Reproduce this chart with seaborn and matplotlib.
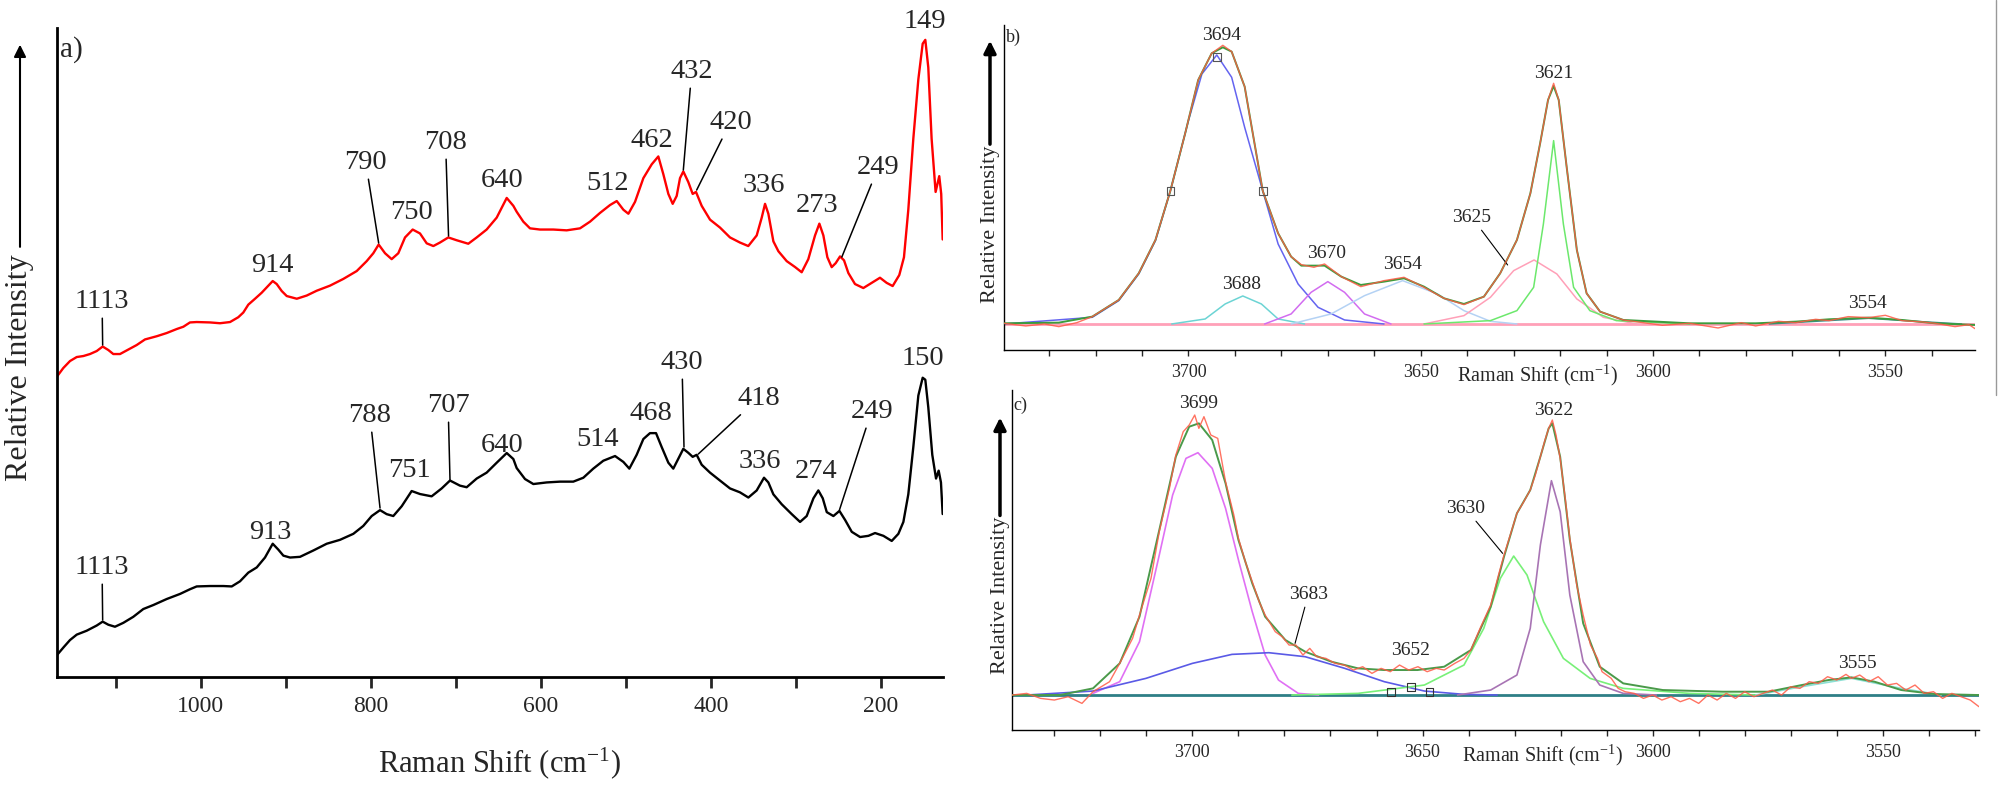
import numpy as np
import matplotlib
matplotlib.use("Agg")
import matplotlib.pyplot as plt
from matplotlib.lines import Line2D
import seaborn as sns

# ---------------- panel a) spectra: (Raman shift cm-1, relative intensity) ----------------
a_red_points = [
    (1168.6, 301), (1161.6, 309), (1153.7, 316), (1145.8, 320), (1138, 321), (1130.2, 323),
    (1122.3, 326), (1115.3, 330.5), (1108.6, 327), (1102.8, 323), (1094.9, 323), (1087, 326.6),
    (1075.3, 332), (1065.5, 337.6), (1051.7, 340.8), (1040, 344), (1028.2, 348), (1020.4, 350.3),
    (1012.6, 354.6), (1004.7, 355), (989, 354.6), (977.3, 353.8), (965.5, 355), (955.8, 359.8),
    (949.9, 364.5), (944, 372.4), (936.1, 378.3), (928.3, 384.3), (920.5, 391.4), (915.3, 396),
    (910.6, 393), (904.7, 386), (898.8, 381), (887, 378.3), (875.3, 381.5), (863.6, 386.3),
    (847.9, 391.4), (832.3, 398.1), (816.5, 406), (804.8, 415.9), (797, 423.8), (790.7, 432.5),
    (783.2, 423.8), (775.4, 417.9), (767.6, 423.8), (759.7, 439.6), (750.7, 447.5),
    (742.1, 443.6), (734.2, 433.7), (726.4, 431), (718.6, 434.5), (708.8, 439.6), (699, 436.8),
    (685.3, 433.3), (675.4, 439.6), (663.7, 447.5), (651.9, 459.4), (640.1, 479.1),
    (632.3, 471.2), (628.4, 465.3), (620.6, 455.4), (612.7, 448.7), (601, 447.5),
    (585.3, 447.5), (569.6, 446.7), (553.9, 448.7), (542.1, 455.4), (530.4, 464.1),
    (518.6, 472), (510.7, 476), (502.9, 467.3), (497, 463.3), (489.2, 475.2), (479.4, 498.9),
    (469.6, 512.7), (461.8, 520.6), (455.9, 502.8), (450, 483.1), (444.9, 473.2),
    (440.2, 481.1), (436.3, 498.9), (432.4, 505.6), (426.5, 494.9), (421.4, 483.1),
    (417.5, 485.1), (410.8, 471.2), (401, 457.4), (389.3, 449.5), (377.5, 439.6),
    (365.8, 434.5), (356, 431), (346.1, 441.6), (340.2, 459.4), (336.3, 473.2), (332.4, 463.3),
    (326.5, 435.7), (320.6, 425.8), (310.8, 415.9), (301, 410), (293.2, 404.8), (285.4, 417.9),
    (277.5, 441.6), (272.4, 453.4), (267.7, 441.6), (263, 419.8), (257.9, 409.9),
    (253.2, 413.9), (248.1, 420.6), (243.4, 416.7), (238.3, 404), (230.5, 393), (220.7, 389),
    (210.9, 394.2), (201.1, 399.3), (193.3, 394.2), (186.2, 391), (178.4, 402), (172.9, 419.8),
    (167.8, 467.3), (161.9, 538.4), (156, 597.7), (150.9, 633.3), (147.8, 637.2),
    (144.3, 609.6), (140.4, 538.4), (135.7, 485.1), (131.4, 500.9), (129.1, 483.1),
    (127.4, 437.6)]

a_black_points = [
    (1169, 22), (1161, 30), (1153.7, 37), (1145.8, 42.4), (1134.1, 46.3), (1122.3, 51.5),
    (1115.3, 55.4), (1108.6, 52.3), (1100.8, 50.3), (1091, 54.2), (1079.3, 60.2), (1067.5, 68),
    (1055.7, 72), (1040, 78), (1024.3, 83.1), (1012.6, 87.8), (1004.7, 90.6), (989, 91),
    (973.4, 91), (963.5, 90.6), (953.8, 95.7), (944, 104.4), (934.1, 109.6), (924.4, 119.5),
    (915.3, 133.3), (908.7, 127.4), (902.8, 121.4), (894.9, 119.5), (883.2, 120.2),
    (867.4, 126.6), (851.8, 133.3), (836.2, 137.2), (820.5, 143.2), (808.8, 151.1),
    (798.9, 161), (789.1, 166.9), (781.3, 162.9), (773.5, 161), (763.6, 170.8), (751.9, 186),
    (742.1, 183), (728.4, 180.7), (716.6, 188.6), (706.8, 196.5), (695.1, 191.4),
    (687.2, 189.8), (675.4, 198.5), (663.7, 204.4), (651.9, 214.3), (640.1, 224),
    (632.3, 218), (628.4, 209), (618.6, 198), (608.8, 193), (593.1, 194.6), (577.4, 195.4),
    (561.8, 195.4), (550, 199.3), (538.3, 208.4), (526.5, 216.3), (512.7, 221), (502.9, 215.1),
    (495.9, 208.4), (487.3, 222.2), (479.4, 238), (471.6, 243.9), (464.5, 243.9),
    (457.9, 230.1), (450, 214.3), (444.2, 208.4), (438.3, 218.3), (432.4, 228.2),
    (426.5, 224.2), (421.4, 220.2), (416.7, 222.2), (410.8, 212.3), (401, 204.4),
    (389.3, 196.5), (377.5, 188.6), (365.8, 184.7), (355.9, 179.5), (346.1, 186.6),
    (337.5, 199.3), (332.4, 194.6), (326.5, 182.7), (316.7, 172.8), (304.9, 162.9),
    (295.1, 155.1), (287.3, 161), (279.4, 178.7), (273.6, 186.6), (268.4, 178.7),
    (263.7, 164.9), (255.9, 161), (248.8, 166.1), (242.1, 157), (234.3, 145.2), (224.5, 140),
    (214.7, 141.2), (206.9, 144), (197.1, 141.2), (187.3, 136.1), (179.5, 143.2),
    (173.6, 155.1), (167.8, 182.7), (161.9, 230.1), (156, 281.5), (150.9, 299.3),
    (147.8, 297.3), (144.3, 269.7), (139.6, 222.2), (135.2, 198.5), (132.1, 206.4),
    (129.4, 194.6), (127.4, 163)]

# peak labels: (text, label x, label y, leader end x or None, leader end y)
a_red_labels = [("1113", 1116, 376, 1115.3, 332), ("914", 916, 412, None, None),
                ("790", 806, 515, 790.7, 434), ("750", 752, 465, None, None),
                ("708", 712, 535, 708.5, 441), ("640", 645, 497, None, None),
                ("512", 522, 494, None, None), ("462", 469, 537, None, None),
                ("432", 422.5, 606, 432.4, 507), ("420", 377, 555, 416.7, 487),
                ("336", 338, 492, None, None), ("273", 275, 472, None, None),
                ("249", 203, 510, 246, 420), ("149", 148, 656, None, None)]
a_black_labels = [("1113", 1116, 110, 1115.3, 57), ("913", 918, 145, None, None),
                  ("788", 801, 262, 789.1, 169), ("751", 754, 207, None, None),
                  ("707", 709, 272, 706.8, 197), ("640", 646, 232, None, None),
                  ("514", 533, 238, None, None), ("468", 470, 264, None, None),
                  ("430", 434, 315, 431.6, 230), ("418", 344, 279, 414.8, 223),
                  ("336", 342, 216, None, None), ("274", 276, 206, None, None),
                  ("249", 211, 266, 248.8, 167), ("150", 151, 319, None, None)]

# ---------------- panel b) OH stretching region ----------------
b_fit_x = [3739.7, 3727.9, 3720.7, 3715.0, 3710.7, 3707.1, 3703.9, 3700.7, 3697.9, 3695.0,
           3692.6, 3690.7, 3687.9, 3684.0, 3680.7, 3677.9, 3675.7, 3670.7, 3667.1, 3662.9,
           3657.9, 3653.6, 3649.3, 3645.0, 3640.7, 3636.4, 3632.9, 3629.3, 3626.4, 3624.3,
           3622.6, 3621.4, 3620.3, 3618.6, 3616.4, 3614.3, 3611.4, 3606.4, 3592.1, 3577.9,
           3569.3, 3562.1, 3553.6, 3546.4, 3539.3, 3530.7]
b_fit_y = [2, 4, 22, 72, 152, 252, 399, 572, 732, 812,
           830, 817, 712, 399, 272, 202, 175, 175, 142, 117,
           127, 137, 112, 77, 60, 82, 152, 252, 392, 542,
           672, 714, 672, 472, 222, 92, 37, 12, 2, 2,
           7, 14, 19, 12, 2, -3]
b_obs_x = [3739.7, 3735, 3731, 3727.9, 3724, 3720.7, 3715.0, 3710.7, 3707.1, 3703.9, 3700.7,
           3697.9, 3695.0, 3692.6, 3690.7, 3687.9, 3684.0, 3680.7, 3677.9, 3675.7, 3673, 3670.7,
           3667.1, 3662.9, 3657.9, 3653.6, 3649.3, 3645.0, 3640.7, 3636.4, 3632.9, 3629.3,
           3626.4, 3624.3, 3622.6, 3621.4, 3620.3, 3618.6, 3616.4, 3614.3, 3611.4, 3606.4,
           3598, 3592.1, 3586, 3581, 3577.9, 3573, 3569.3, 3565, 3562.1, 3558, 3553.6, 3550,
           3546.4, 3542, 3539.3, 3535, 3532, 3530.7]
b_obs_y = [2, -6, 0, -8, 4, 22, 72, 152, 252, 399, 572,
           732, 812, 836, 817, 712, 399, 272, 202, 178, 170, 180,
           142, 112, 130, 140, 110, 77, 58, 82, 152, 252,
           392, 542, 672, 722, 672, 472, 222, 92, 37, 12,
           -4, 2, -12, 4, -6, 8, 4, 14, 10, 22, 19, 26,
           10, 6, 2, -8, -2, -14]
b_comp_x = {
    "3694": [3739.7, 3720.7, 3715.0, 3710.7, 3707.1, 3703.9, 3700.0, 3697.1, 3693.9, 3690.7,
             3687.9, 3684.0, 3680.7, 3676.4, 3672.1, 3666.4, 3657.9],
    "3688": [3703.6, 3696.4, 3692.1, 3688.3, 3684.3, 3680.7, 3675.0],
    "3670": [3683.6, 3677.9, 3673.6, 3670.0, 3666.4, 3662.1, 3656.4],
    "3654": [3677.9, 3669.3, 3662.1, 3653.9, 3646.4, 3640.7, 3635.0, 3629.3],
    "3625": [3649.3, 3640.7, 3635.0, 3630.0, 3625.6, 3620.7, 3616.4, 3610.7, 3603.6],
    "3621": [3649.3, 3635.0, 3629.3, 3625.7, 3623.6, 3621.4, 3619.3, 3617.1, 3613.6, 3607.9, 3592.1],
    "3554": [3575.0, 3565.0, 3553.6, 3543.6, 3533.6],
}
b_comp_y = {
    "3694": [0, 20, 70, 150, 250, 399, 610, 750, 807, 740, 590, 399, 240, 120, 50, 12, 0],
    "3688": [0, 15, 60, 84, 60, 15, 0],
    "3670": [0, 30, 95, 127, 95, 30, 0],
    "3654": [0, 30, 85, 130, 90, 40, 8, 0],
    "3625": [0, 25, 80, 160, 192, 150, 75, 20, 0],
    "3621": [0, 10, 40, 110, 300, 550, 300, 110, 40, 10, 0],
    "3554": [0, 8, 17, 8, 0],
}
b_comp_colors = {"3694": "#6464f0", "3688": "#6cd4d4", "3670": "#d26cf0", "3654": "#b4d2f4",
                 "3625": "#ffa0b8", "3621": "#6ce86c", "3554": "#3c8c8c"}
b_markers_x = [3693.9, 3703.9, 3684.0]
b_markers_y = [800, 399, 399]
b_labels = [("3694", 3692.9, 864, None, None), ("3688", 3688.6, 117, None, None),
            ("3670", 3670.3, 210, None, None), ("3654", 3653.9, 177, None, None),
            ("3625", 3639.0, 320, 3631.3, 177), ("3621", 3621.4, 750, None, None),
            ("3554", 3553.9, 62, None, None)]

# ---------------- panel c) OH stretching region ----------------
c_fit_x = [3739.2, 3728.8, 3721.6, 3715.8, 3711.5, 3707.2, 3703.6, 3700.7, 3698.6, 3695.7,
           3692.8, 3690.0, 3687.0, 3684.2, 3679.8, 3675.5, 3669.8, 3664.0, 3658.3, 3651.1,
           3645.3, 3639.5, 3635.2, 3632.3, 3629.5, 3626.6, 3624.4, 3622.6, 3621.8, 3620.1,
           3618.0, 3615.1, 3611.5, 3606.4, 3597.8, 3584.8, 3574.8, 3567.6, 3561.8, 3556.8,
           3551.8, 3546.0, 3538.8, 3529.1]
c_fit_y = [0, 0, 20, 95, 235, 495, 715, 805, 815, 765,
           635, 465, 335, 235, 165, 130, 100, 80, 75, 75,
           85, 135, 265, 415, 545, 615, 715, 800, 815, 715,
           465, 215, 85, 35, 15, 10, 10, 30, 45, 53,
           40, 15, 3, 0]
c_obs_x = [3739.2, 3736, 3733, 3730, 3727, 3724, 3721.6, 3718, 3715.8, 3713, 3711.5, 3709,
           3707.2, 3705, 3703.6, 3702, 3700.7, 3699.5, 3698.6, 3697.5, 3696, 3694.5, 3692.8,
           3691, 3690, 3688.5, 3687, 3685.5, 3684.2, 3682, 3680.5, 3679, 3677.5, 3676, 3674.5,
           3673, 3671, 3669, 3667, 3665, 3663, 3661, 3659, 3657, 3655, 3653, 3651, 3649, 3647,
           3645.3, 3643, 3641, 3639.5, 3637.5, 3635.2, 3633.5, 3632.3, 3630.5, 3629.5, 3628,
           3626.6, 3625.5, 3624.4, 3623.5, 3622.6, 3621.8, 3621, 3620.1, 3619, 3618, 3616.5,
           3615.1, 3613.5, 3612, 3611, 3609, 3607.5, 3606, 3604, 3602, 3600, 3598, 3596, 3594,
           3592, 3590, 3588, 3586, 3584, 3582, 3580, 3578, 3576, 3574, 3572, 3570, 3568, 3566,
           3564, 3562, 3560, 3558, 3556.8, 3555, 3553, 3551, 3549, 3547, 3545, 3543, 3541,
           3539, 3537, 3535, 3533, 3531, 3529.1]
c_obs_y = [0, 5, -10, -15, -5, -25, 10, 40, 95, 170, 240, 350,
           490, 620, 720, 790, 810, 840, 800, 835, 780, 770, 640,
           540, 470, 400, 340, 280, 240, 190, 175, 150, 150, 120, 140,
           115, 110, 95, 90, 75, 85, 65, 80, 70, 90, 75, 85, 70, 80,
           75, 95, 110, 135, 200, 270, 360, 420, 500, 545, 580,
           615, 660, 715, 760, 800, 825, 780, 710, 590, 470, 330,
           240, 150, 110, 70, 50, 20, 10, 5, -10, 0, -15, -5, -20,
           -10, -25, 0, -15, 5, -10, 10, -5, 5, 15, 0, 25, 20, 40,
           35, 55, 45, 62, 50, 60, 40, 55, 30, 35, 15, 30, 5,
           10, -10, 5, -5, -15, -35]
c_comp_x = {
    "3699": [3721.6, 3715.8, 3711.5, 3707.2, 3704.3, 3701.4, 3698.8, 3695.7, 3692.8, 3689.9,
             3687.0, 3684.2, 3681.3, 3677.0, 3672.6],
    "3683": [3736.0, 3721.6, 3710.1, 3700.0, 3691.4, 3683.4, 3675.5, 3666.9, 3658.3, 3649.6,
             3641.0, 3633.8],
    "3630": [3678.4, 3664.0, 3649.6, 3641.0, 3636.7, 3633.1, 3630.2, 3627.3, 3623.7, 3619.4,
             3613.6, 3606.4, 3592.0, 3577.6],
    "3622": [3642.4, 3635.2, 3629.5, 3626.6, 3624.4, 3622.0, 3620.1, 3618.0, 3615.1, 3611.5,
             3606.4, 3599.2],
    "3555": [3577.6, 3567.6, 3556.8, 3546.0, 3537.3],
}
c_comp_y = {
    "3699": [5, 40, 160, 420, 600, 710, 727, 680, 560, 400, 250, 120, 45, 5, 0],
    "3683": [0, 12, 50, 95, 122, 127, 115, 80, 40, 12, 2, 0],
    "3630": [0, 5, 30, 90, 200, 350, 417, 360, 220, 110, 50, 20, 5, 0],
    "3622": [0, 15, 60, 200, 450, 643, 550, 300, 100, 30, 5, 0],
    "3555": [0, 25, 50, 20, 0],
}
c_comp_colors = {"3699": "#e070f4", "3683": "#5a5ae6", "3630": "#78f078", "3622": "#a874b4",
                 "3555": "#8ce0d4"}
c_markers_x = [3656.8, 3652.5, 3648.5]
c_markers_y = [10, 25, 10]
c_labels = [("3699", 3698.6, 875, None, None), ("3683", 3674.8, 303, 3677.7, 155),
            ("3652", 3652.5, 135, None, None), ("3630", 3640.7, 560, 3632.6, 425),
            ("3622", 3621.5, 855, None, None), ("3555", 3555.6, 95, None, None)]

# ---------------- styling ----------------
sns.set_style("ticks")
plt.rcParams["font.family"] = ["Liberation Serif", "DejaVu Serif"]
plt.rcParams["mathtext.fontset"] = "custom"
plt.rcParams["mathtext.rm"] = "Liberation Serif"
plt.rcParams["mathtext.it"] = "Liberation Serif:italic"


def trace(ax, xs, ys, color, lw, alpha=1.0, z=2):
    sns.lineplot(x=xs, y=ys, ax=ax, sort=False, estimator=None, color=color,
                 linewidth=lw, alpha=alpha, legend=False, zorder=z)


def put_labels(ax, labels, size, lw):
    for txt, lx, ly, ex, ey in labels:
        if ex is None:
            ax.text(lx, ly, txt, ha="center", va="center", fontsize=size, clip_on=False)
        else:
            ax.annotate(txt, xy=(ex, ey), xytext=(lx, ly), ha="center", va="center",
                        fontsize=size, annotation_clip=False,
                        arrowprops=dict(arrowstyle="-", color="black", lw=lw,
                                        shrinkA=1, shrinkB=0))


def style_axes(ax, xlim, ylim, major, minor, lsize, spine_w, tick_len):
    ax.set_xlim(*xlim)
    ax.set_ylim(*ylim)
    ax.set_xticks(major)
    ax.set_xticks(minor, minor=True)
    ax.set_yticks([])
    ax.set_xlabel("")
    ax.set_ylabel("")
    for s in ["top", "right"]:
        ax.spines[s].set_visible(False)
    for s in ["left", "bottom"]:
        ax.spines[s].set_linewidth(spine_w)
        ax.spines[s].set_color("black")
    ax.tick_params(axis="x", which="both", direction="out", length=tick_len,
                   width=spine_w, labelsize=lsize, pad=6)


fig = plt.figure(figsize=(20, 7.9), dpi=100)

# panel a
a_red_x, a_red_y = zip(*a_red_points)
a_black_x, a_black_y = zip(*a_black_points)
ax_a = fig.add_axes([0.0285, 0.143, 0.443, 0.8215])
trace(ax_a, list(a_red_x), list(a_red_y), "#ff0000", 1.7)
trace(ax_a, list(a_black_x), list(a_black_y), "#000000", 1.7)
style_axes(ax_a, (1169, 127), (0, 649), [1000, 800, 600, 400, 200],
           [1100, 900, 700, 500, 300], 17, 2.0, 8)
put_labels(ax_a, a_red_labels, 20.5, 1.1)
put_labels(ax_a, a_black_labels, 20.5, 1.1)

# panel b
ax_b = fig.add_axes([0.502, 0.557, 0.4855, 0.4114])
ax_b.axhline(0, color="#ffa0b8", lw=2.0, zorder=1)
for key in b_comp_x:
    trace(ax_b, b_comp_x[key], b_comp_y[key], b_comp_colors[key], 1.1)
trace(ax_b, b_fit_x, b_fit_y, "#3c9c3c", 1.4, z=3)
trace(ax_b, b_obs_x, b_obs_y, "#ff5a46", 1.0, alpha=0.85, z=4)
ax_b.scatter(b_markers_x, b_markers_y, marker="s", s=30, facecolors="none",
             edgecolors="#555555", linewidths=0.8, zorder=5)
style_axes(ax_b, (3739.7, 3530.7), (-78, 897), [3700, 3650, 3600, 3550],
           list(range(3730, 3530, -10)), 13, 1.0, 4)
put_labels(ax_b, b_labels, 14, 0.8)

# panel c
ax_c = fig.add_axes([0.506, 0.0759, 0.4835, 0.4304])
ax_c.axhline(0, color="#2e7f86", lw=2.0, zorder=1)
for key in c_comp_x:
    trace(ax_c, c_comp_x[key], c_comp_y[key], c_comp_colors[key], 1.2)
trace(ax_c, c_fit_x, c_fit_y, "#4a9a4a", 1.4, z=3)
trace(ax_c, c_obs_x, c_obs_y, "#ff5a46", 1.0, alpha=0.85, z=4)
ax_c.scatter(c_markers_x, c_markers_y, marker="s", s=30, facecolors="none",
             edgecolors="#333333", linewidths=0.8, zorder=5)
style_axes(ax_c, (3739.2, 3529.1), (-105, 915), [3700, 3650, 3600, 3550],
           list(range(3730, 3520, -10)), 13, 1.0, 4)
put_labels(ax_c, c_labels, 14, 0.8)

# axis titles, panel letters and intensity arrows
xlab = "Raman Shift (cm$^{\\mathrm{-1}}$)"
fig.text(0.2495, 0.034, xlab, ha="center", va="center", fontsize=22)
fig.text(0.7685, 0.525, xlab, ha="center", va="center", fontsize=14.5)
fig.text(0.771, 0.044, xlab, ha="center", va="center", fontsize=14.5)
fig.text(0.0355, 0.937, "a)", ha="center", va="center", fontsize=21)
fig.text(0.5065, 0.953, "b)", ha="center", va="center", fontsize=13)
fig.text(0.51, 0.487, "c)", ha="center", va="center", fontsize=13)

for x, y0, y1, yt, fs, lw in [(0.01, 0.684, 0.947, 0.535, 23, 1.5),
                              (0.495, 0.814, 0.952, 0.7165, 16, 2.5),
                              (0.5, 0.344, 0.475, 0.247, 16, 2.5)]:
    fig.add_artist(matplotlib.patches.FancyArrowPatch(
        (x, y0), (x, y1), transform=fig.transFigure, arrowstyle="-|>",
        mutation_scale=18, color="black", lw=lw))
    fig.text(x, yt, "Relative Intensity", rotation=90, ha="center", va="center", fontsize=fs)

fig.add_artist(Line2D([0.998, 0.998], [0.5, 1.0], transform=fig.transFigure,
                      color="#999999", lw=1.0))

fig.savefig("out.png", dpi=100)
